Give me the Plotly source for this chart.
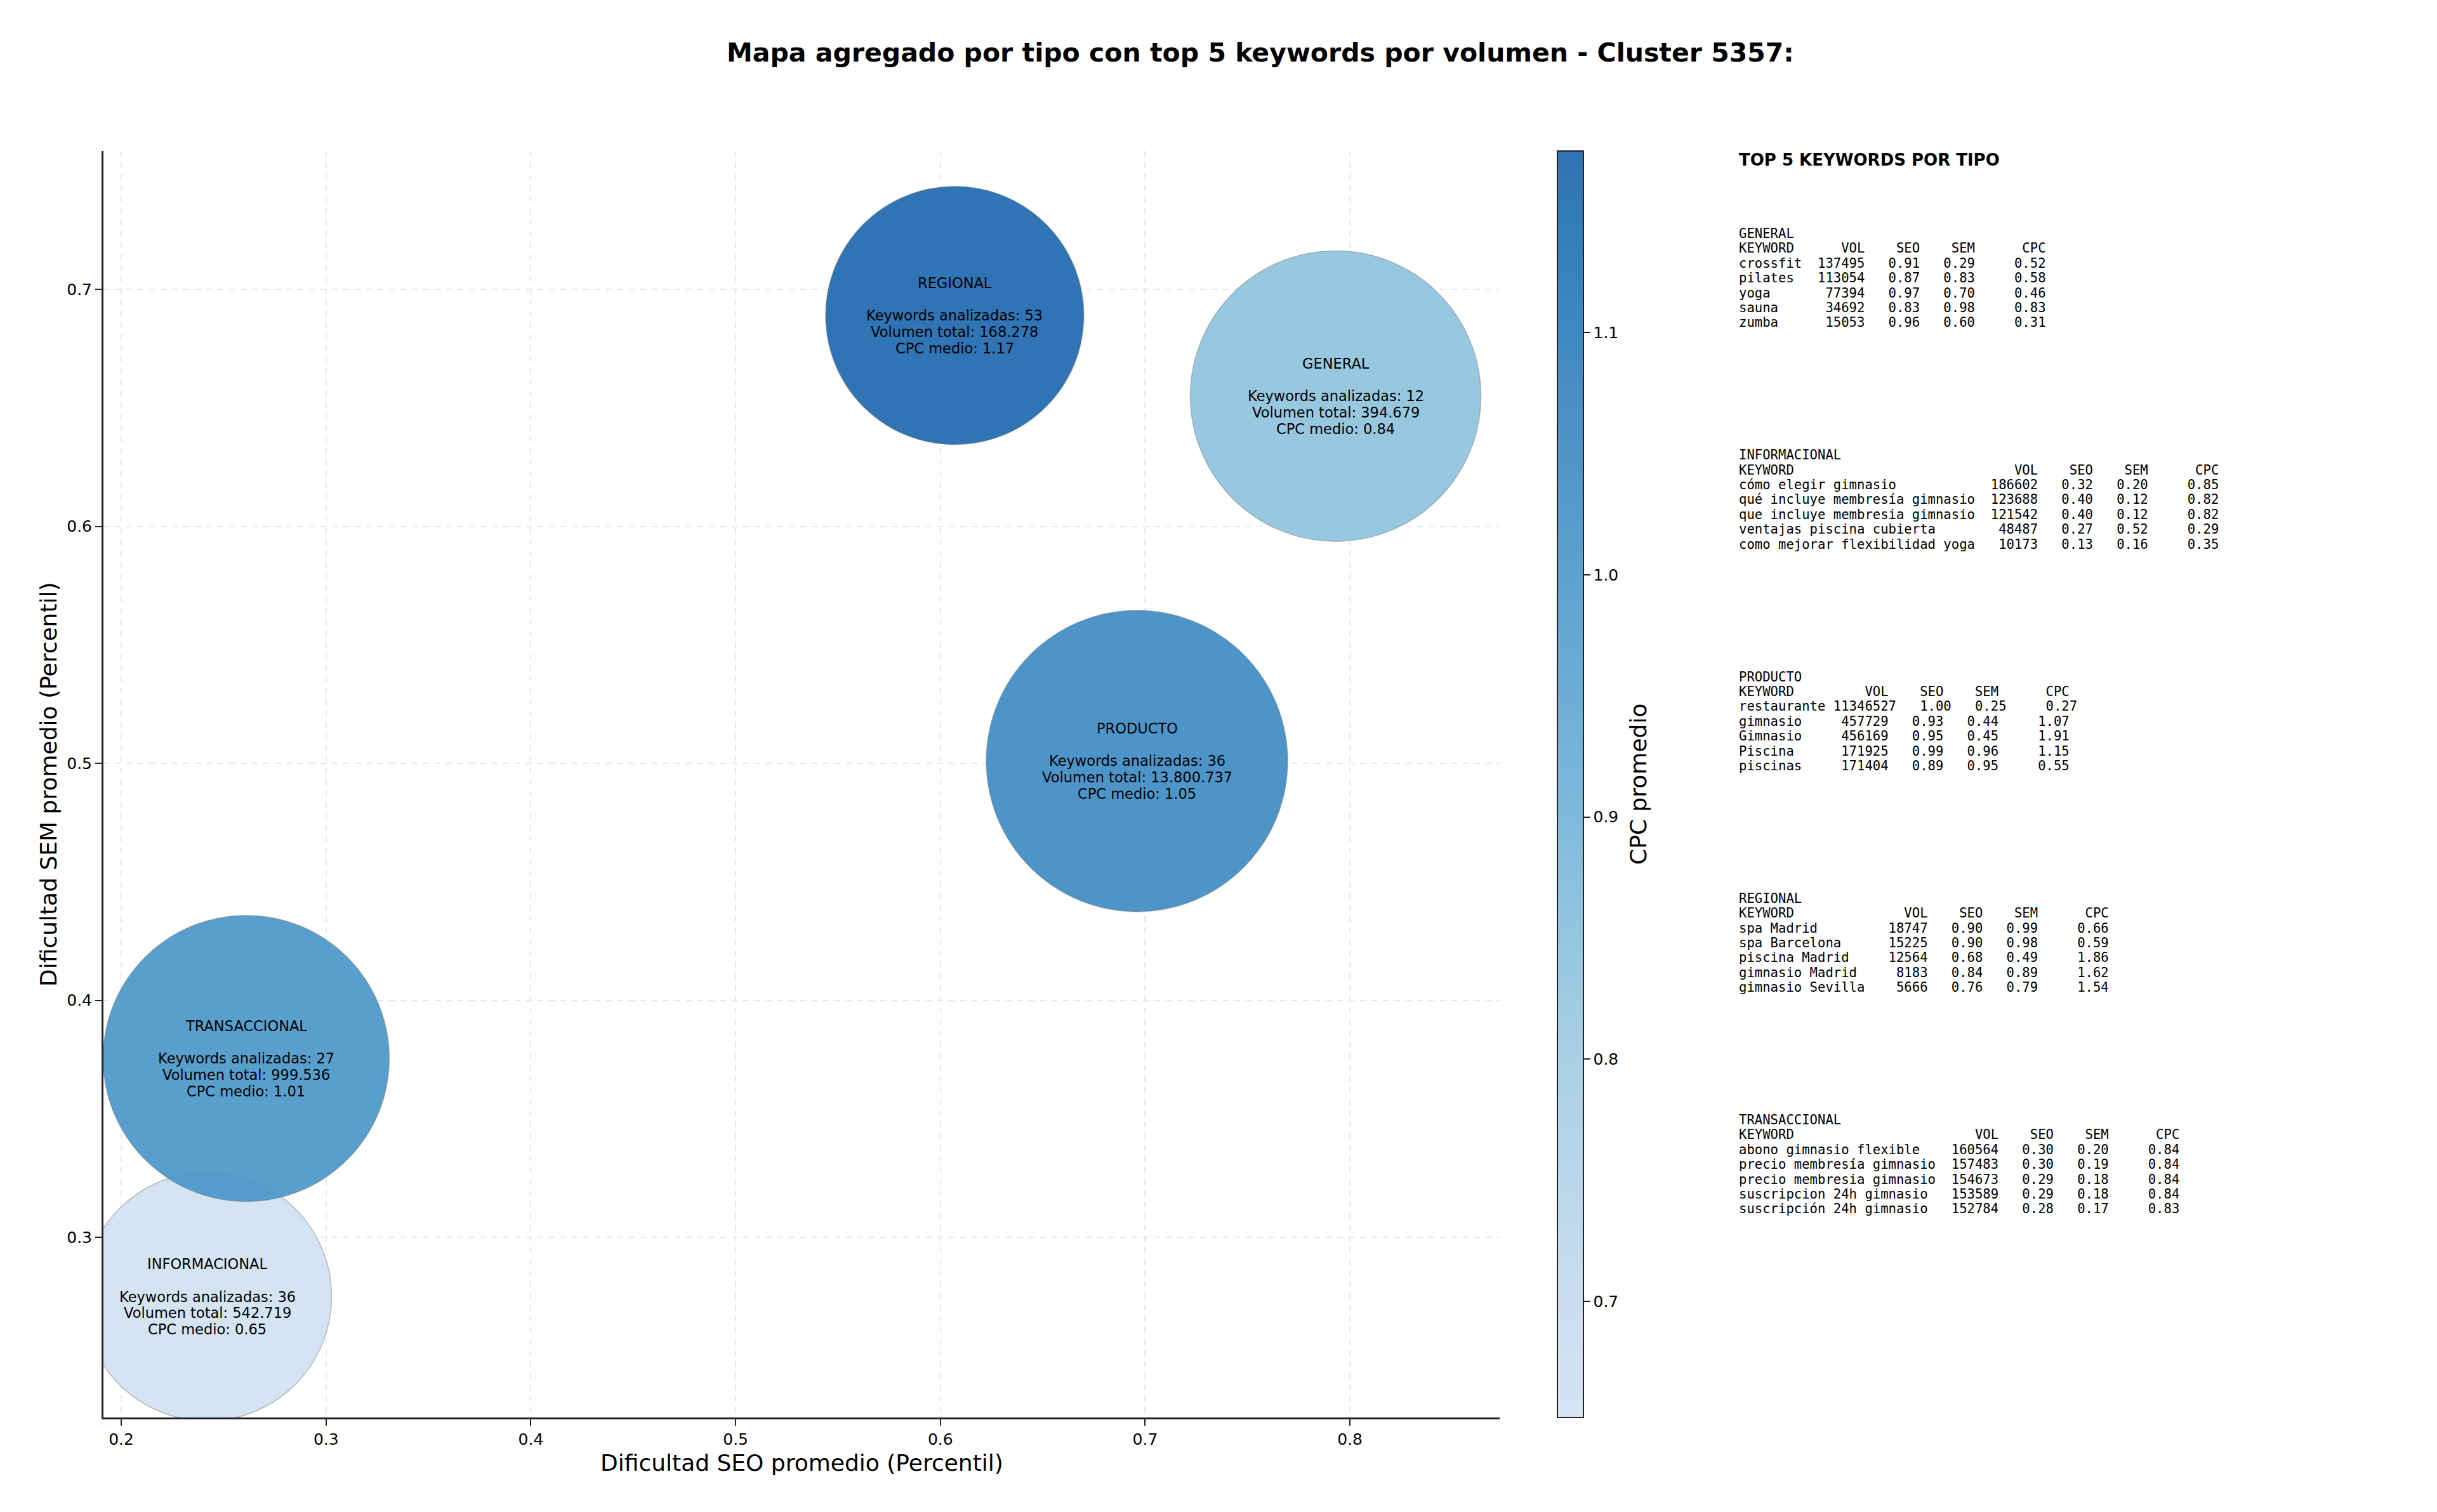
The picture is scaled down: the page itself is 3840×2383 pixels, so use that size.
import plotly.graph_objects as go

# ---------------- data ----------------
tipos = ["GENERAL", "INFORMACIONAL", "PRODUCTO", "REGIONAL", "TRANSACCIONAL"]
seo_promedio = [0.793, 0.242, 0.696, 0.607, 0.261]
sem_promedio = [0.655, 0.275, 0.501, 0.689, 0.3755]
keywords_analizadas = [12, 36, 36, 53, 27]
volumen_total = [394679, 542719, 13800737, 168278, 999536]
cpc_medio = [0.84, 0.65, 1.05, 1.17, 1.01]
tamano_burbuja = [458, 392, 475, 407, 451]

x_ticks = [0.2, 0.3, 0.4, 0.5, 0.6, 0.7, 0.8]
y_ticks = [0.3, 0.4, 0.5, 0.6, 0.7]
cbar_ticks = [0.7, 0.8, 0.9, 1.0, 1.1]

top_keywords = {
    "GENERAL": {
        "kw": ["crossfit", "pilates", "yoga", "sauna", "zumba"],
        "vol": [137495, 113054, 77394, 34692, 15053],
        "seo": [0.91, 0.87, 0.97, 0.83, 0.96],
        "sem": [0.29, 0.83, 0.70, 0.98, 0.60],
        "cpc": [0.52, 0.58, 0.46, 0.83, 0.31],
    },
    "INFORMACIONAL": {
        "kw": ["cómo elegir gimnasio", "qué incluye membresía gimnasio",
               "que incluye membresia gimnasio", "ventajas piscina cubierta",
               "como mejorar flexibilidad yoga"],
        "vol": [186602, 123688, 121542, 48487, 10173],
        "seo": [0.32, 0.40, 0.40, 0.27, 0.13],
        "sem": [0.20, 0.12, 0.12, 0.52, 0.16],
        "cpc": [0.85, 0.82, 0.82, 0.29, 0.35],
    },
    "PRODUCTO": {
        "kw": ["restaurante", "gimnasio", "Gimnasio", "Piscina", "piscinas"],
        "vol": [11346527, 457729, 456169, 171925, 171404],
        "seo": [1.00, 0.93, 0.95, 0.99, 0.89],
        "sem": [0.25, 0.44, 0.45, 0.96, 0.95],
        "cpc": [0.27, 1.07, 1.91, 1.15, 0.55],
    },
    "REGIONAL": {
        "kw": ["spa Madrid", "spa Barcelona", "piscina Madrid",
               "gimnasio Madrid", "gimnasio Sevilla"],
        "vol": [18747, 15225, 12564, 8183, 5666],
        "seo": [0.90, 0.90, 0.68, 0.84, 0.76],
        "sem": [0.99, 0.98, 0.49, 0.89, 0.79],
        "cpc": [0.66, 0.59, 1.86, 1.62, 1.54],
    },
    "TRANSACCIONAL": {
        "kw": ["abono gimnasio flexible", "precio membresía gimnasio",
               "precio membresia gimnasio", "suscripcion 24h gimnasio",
               "suscripción 24h gimnasio"],
        "vol": [160564, 157483, 154673, 153589, 152784],
        "seo": [0.30, 0.30, 0.29, 0.29, 0.28],
        "sem": [0.20, 0.19, 0.18, 0.18, 0.17],
        "cpc": [0.84, 0.84, 0.84, 0.84, 0.83],
    },
}

# ---------------- styling helpers ----------------
W, H = 3840, 2383
OFF = 8  # page body margin
BLUES = [(0.0, (247, 251, 255)), (0.125, (222, 235, 247)), (0.25, (198, 219, 239)),
         (0.375, (158, 202, 225)), (0.5, (107, 174, 214)), (0.625, (66, 146, 198)),
         (0.75, (33, 113, 181)), (0.875, (8, 81, 156)), (1.0, (8, 48, 107))]


def blues(p):
    for (p0, c0), (p1, c1) in zip(BLUES[:-1], BLUES[1:]):
        if p0 <= p <= p1:
            t = (p - p0) / (p1 - p0)
            return tuple(c0[i] + t * (c1[i] - c0[i]) for i in range(3))
    return BLUES[-1][1]


lo, hi, alpha = 0.2, 0.8, 0.9
stops = [lo, 0.25, 0.375, 0.5, 0.625, 0.75, hi]
colorscale = []
for p in stops:
    r, g, b = blues(p)
    colorscale.append([(p - lo) / (hi - lo), f"rgba({r:.0f},{g:.0f},{b:.0f},{alpha})"])


def px_x(v):
    return (v - OFF) / W


def px_y(v):
    return 1 - (v - OFF) / H


ax_l, ax_r, ax_t, ax_b = 163, 2363, 238, 2234

fig = go.Figure()
fig.add_trace(go.Scatter(
    x=seo_promedio, y=sem_promedio, mode="markers",
    marker=dict(size=tamano_burbuja, sizemode="diameter", color=cpc_medio, opacity=1,
                colorscale=colorscale, cmin=0.652, cmax=1.175,
                line=dict(width=1.5, color="rgba(120,120,120,0.45)"),
                colorbar=dict(x=px_x(2454), xanchor="left", xpad=0, ypad=0,
                              y=(px_y(ax_t) + px_y(ax_b)) / 2, yanchor="middle",
                              len=(ax_b - ax_t) / H, lenmode="fraction",
                              thickness=41, outlinewidth=2, outlinecolor="#222",
                              tickvals=cbar_ticks, ticktext=[f"{v:.1f}" for v in cbar_ticks],
                              ticks="outside", ticklen=10, tickwidth=2, tickcolor="#222",
                              tickfont=dict(family="DejaVu Sans", size=25, color="black"))),
    cliponaxis=True, showlegend=False, hoverinfo="skip",
))

axis_common = dict(showline=True, linecolor="#222", linewidth=3, mirror=False,
                   ticks="outside", ticklen=10, tickwidth=2, tickcolor="#222",
                   showgrid=True, gridcolor="#e8e8e8", gridwidth=2, griddash="dash",
                   zeroline=False, tickfont=dict(family="DejaVu Sans", size=25, color="black"))

fig.update_layout(
    width=W, height=H, margin=dict(l=0, r=0, t=0, b=0),
    paper_bgcolor="white", plot_bgcolor="white",
    xaxis=dict(domain=[px_x(ax_l), px_x(ax_r)], range=[0.1913, 0.8731],
               tickvals=x_ticks, ticktext=[f"{v:.1f}" for v in x_ticks], **axis_common),
    yaxis=dict(domain=[px_y(ax_b), px_y(ax_t)], range=[0.224, 0.7584],
               tickvals=y_ticks, ticktext=[f"{v:.1f}" for v in y_ticks], **axis_common),
)

ann = []
# bubble labels (anchored on data coordinates, lines offset in pixels)
LINE = 25.7
for t, xs, ys, n, v, c in zip(tipos, seo_promedio, sem_promedio, keywords_analizadas,
                              volumen_total, cpc_medio):
    vol_txt = f"{v:,}".replace(",", ".")
    lines = [t, "", f"Keywords analizadas: {n}", f"Volumen total: {vol_txt}", f"CPC medio: {c:.2f}"]
    for li, line in enumerate(lines):
        if not line:
            continue
        ann.append(dict(text=line, x=xs, y=ys, xref="x", yref="y", showarrow=False,
                        xanchor="center", yanchor="middle", yshift=-(li - 2) * LINE,
                        font=dict(family="DejaVu Sans", size=22.5, color="black")))

ann.append(dict(text="<b>Mapa agregado por tipo con top 5 keywords por volumen - Cluster 5357:</b>",
                x=px_x(1986), y=px_y(83), xref="paper", yref="paper", showarrow=False,
                xanchor="center", yanchor="middle",
                font=dict(family="DejaVu Sans", size=41, color="black")))
ann.append(dict(text="Dificultad SEO promedio (Percentil)", x=px_x(1263), y=px_y(2305),
                xref="paper", yref="paper", showarrow=False, xanchor="center", yanchor="middle",
                font=dict(family="DejaVu Sans", size=36, color="black")))
ann.append(dict(text="Dificultad SEM promedio (Percentil)", x=px_x(76), y=px_y(1236),
                xref="paper", yref="paper", showarrow=False, xanchor="center", yanchor="middle",
                textangle=-90, font=dict(family="DejaVu Sans", size=36, color="black")))
ann.append(dict(text="CPC promedio", x=px_x(2581), y=px_y(1236),
                xref="paper", yref="paper", showarrow=False, xanchor="center", yanchor="middle",
                textangle=-90, font=dict(family="DejaVu Sans", size=36, color="black")))

# side panel
panel_x = px_x(2738)
ann.append(dict(text="<b>TOP 5 KEYWORDS POR TIPO</b>", x=panel_x, y=px_y(252),
                xref="paper", yref="paper", showarrow=False, xanchor="left", yanchor="middle",
                font=dict(family="DejaVu Sans", size=26, color="black")))

NB = "\u00a0"
for bi, tipo in enumerate(tipos):
    d = top_keywords[tipo]
    w = max(len(k) for k in d["kw"])
    lines = [tipo, f"{'KEYWORD':<{w}} {'VOL':>7}{'SEO':>7}{'SEM':>7}{'CPC':>9}"]
    for k, v, s1, s2, c in zip(d["kw"], d["vol"], d["seo"], d["sem"], d["cpc"]):
        lines.append(f"{k:<{w}} {v:>7}{s1:>7.2f}{s2:>7.2f}{c:>9.2f}")
    y0 = 368 + bi * 349.25
    for li, line in enumerate(lines):
        ann.append(dict(text=line.replace(" ", NB), x=panel_x, y=px_y(y0 + li * 23.4),
                        xref="paper", yref="paper", showarrow=False,
                        xanchor="left", yanchor="middle",
                        font=dict(family="DejaVu Sans Mono", size=20.6, color="black")))

fig.update_layout(annotations=ann)
fig.write_html("out.html")
